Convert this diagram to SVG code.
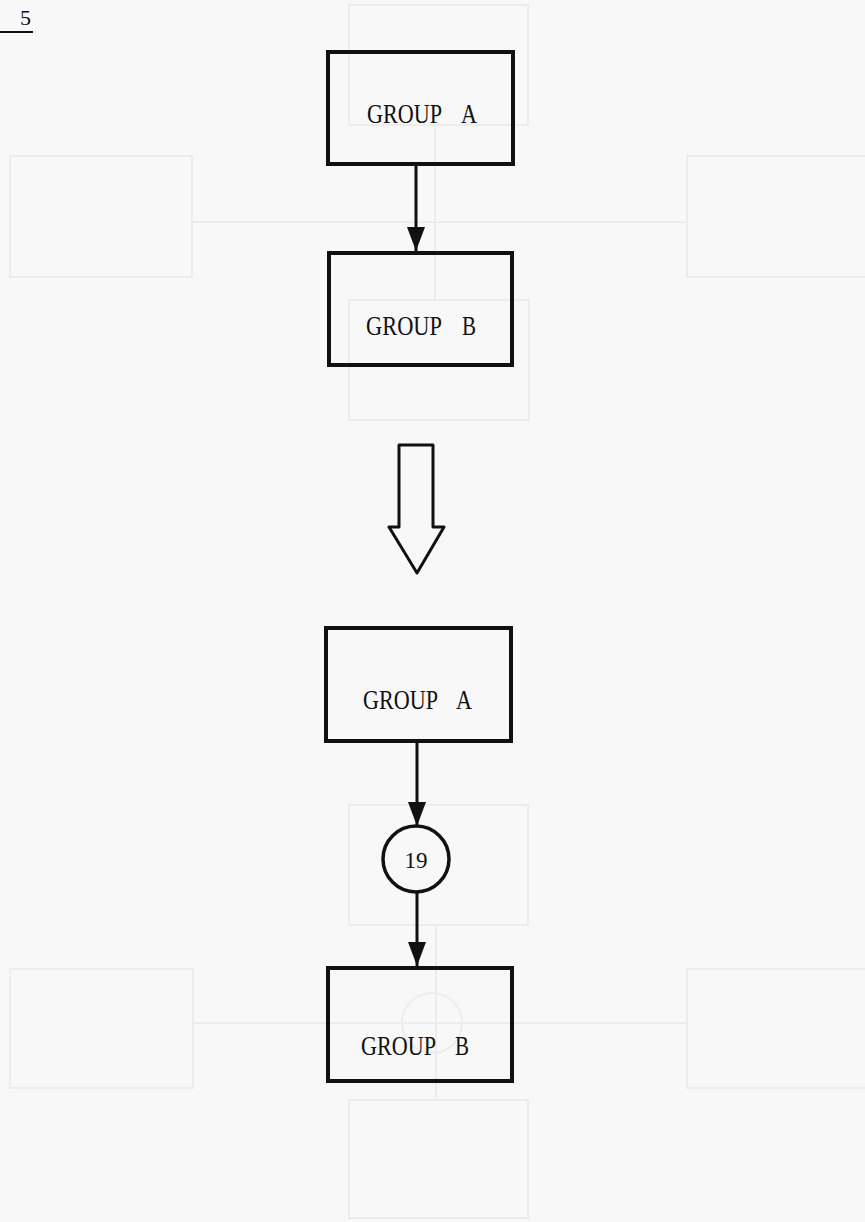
<svg xmlns="http://www.w3.org/2000/svg" width="865" height="1222" viewBox="0 0 865 1222">
<defs>
<style>
.box{fill:none;stroke:#111;stroke-width:4}
.lbl{font-family:"Liberation Serif","DejaVu Serif",serif;font-size:27px;fill:#111}
.ln{stroke:#111;stroke-width:3;fill:none}
.ghost{fill:none;stroke:#ececec;stroke-width:2}
</style>
<marker id="ah" markerWidth="26" markerHeight="20" refX="24" refY="10" orient="auto" markerUnits="userSpaceOnUse" viewBox="0 0 26 20">
<path d="M0,1 L24,10 L0,19 Z" fill="#111"/>
</marker>
</defs>
<rect x="0" y="0" width="865" height="1222" fill="#f8f8f8"/>
<g id="bleed">
<rect class="ghost" x="349" y="5" width="179" height="120"/>
<rect class="ghost" x="349" y="300" width="180" height="120"/>
<rect class="ghost" x="10" y="156" width="182" height="121"/>
<rect class="ghost" x="687" y="156" width="180" height="121"/>
<line class="ghost" x1="192" y1="222" x2="687" y2="222"/>
<line class="ghost" x1="435" y1="125" x2="435" y2="300"/>
<rect class="ghost" x="349" y="805" width="179" height="120"/>
<rect class="ghost" x="349" y="1100" width="179" height="118"/>
<rect class="ghost" x="10" y="969" width="183" height="119"/>
<rect class="ghost" x="687" y="969" width="180" height="119"/>
<line class="ghost" x1="193" y1="1023" x2="687" y2="1023"/>
<line class="ghost" x1="436" y1="925" x2="436" y2="1100"/>
<circle class="ghost" cx="432" cy="1023" r="30"/>
</g>
<g id="page-number">
<text x="20" y="25" style="font-family:'Liberation Serif','DejaVu Serif',serif;font-size:22px;fill:#111">5</text>
<line x1="0" y1="32" x2="33" y2="32" stroke="#111" stroke-width="2"/>
</g>
<g id="connectors">
<line class="ln" x1="416" y1="164" x2="416" y2="251" marker-end="url(#ah)"/>
<line class="ln" x1="417" y1="741" x2="417" y2="826" marker-end="url(#ah)"/>
<line class="ln" x1="417" y1="892" x2="417" y2="966" marker-end="url(#ah)"/>
<path id="transform-arrow" d="M399,445 L433,445 L433,527 L444,527 L417,573 L389,527 L399,527 Z" fill="none" stroke="#111" stroke-width="3" stroke-linejoin="round"/>
</g>
<g id="top-group-a">
<rect class="box" x="328" y="52" width="185" height="112"/>
<text class="lbl" x="367" y="123" textLength="75" lengthAdjust="spacingAndGlyphs">GROUP</text>
<text class="lbl" x="461" y="123" textLength="16" lengthAdjust="spacingAndGlyphs">A</text>
</g>
<g id="top-group-b">
<rect class="box" x="329" y="253" width="183" height="112"/>
<text class="lbl" x="366" y="335" textLength="76" lengthAdjust="spacingAndGlyphs">GROUP</text>
<text class="lbl" x="462" y="335" textLength="14" lengthAdjust="spacingAndGlyphs">B</text>
</g>
<g id="bottom-group-a">
<rect class="box" x="326" y="628" width="185" height="113"/>
<text class="lbl" x="363" y="709" textLength="75" lengthAdjust="spacingAndGlyphs">GROUP</text>
<text class="lbl" x="456" y="709" textLength="16" lengthAdjust="spacingAndGlyphs">A</text>
</g>
<g id="node-19">
<circle cx="416" cy="859" r="33" fill="none" stroke="#111" stroke-width="3.5"/>
<text class="lbl" x="416" y="868" text-anchor="middle" style="font-size:23px">19</text>
</g>
<g id="bottom-group-b">
<rect class="box" x="328" y="968" width="184" height="113"/>
<text class="lbl" x="361" y="1055" textLength="75" lengthAdjust="spacingAndGlyphs">GROUP</text>
<text class="lbl" x="455" y="1055" textLength="14" lengthAdjust="spacingAndGlyphs">B</text>
</g>
</svg>
